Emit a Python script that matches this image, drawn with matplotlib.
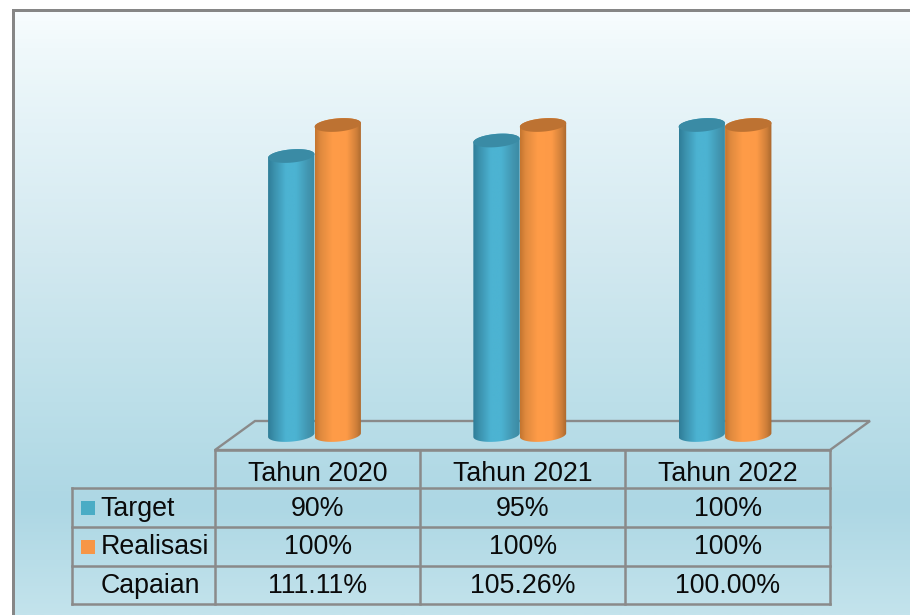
import numpy as np
import matplotlib
matplotlib.use("Agg")
import matplotlib.pyplot as plt
from matplotlib.colors import LinearSegmentedColormap
from matplotlib.patches import Rectangle, Polygon

# ---- data ----
categories = ["Tahun 2020", "Tahun 2021", "Tahun 2022"]
target = [90, 95, 100]
realisasi = [100, 100, 100]
capaian = ["111.11%", "105.26%", "100.00%"]

plt.rcParams["font.family"] = ["Liberation Sans", "DejaVu Sans"]
W, H = 910, 615
fig = plt.figure(figsize=(W / 100, H / 100), dpi=100, facecolor="white")

# ---- background layer in pixel coordinates ----
bg = fig.add_axes([0, 0, 1, 1])
bg.axis("off")

stops = [(0.0, "#f8fdff"), (0.06, "#f0f9fb"), (0.20, "#e3f2f7"), (0.40, "#d3e9f0"),
         (0.65, "#bcdfe9"), (0.82, "#add7e4"), (1.0, "#c3e3ec")]
bg_cmap = LinearSegmentedColormap.from_list("bg", stops)
grad = np.linspace(0, 1, 400)[:, None]
bg.imshow(grad, cmap=bg_cmap, extent=(13, W, H, 10), aspect="auto",
          interpolation="bilinear", zorder=0)
bg.set_xlim(0, W)
bg.set_ylim(H, 0)

GRAY = "#8a8a8a"
bg.add_patch(Rectangle((11.5, 9), W - 11.5, 2.6, fc="#868686", ec="none", zorder=1))
bg.add_patch(Rectangle((11.5, 9), 3.6, H - 9, fc="#868686", ec="none", zorder=1))

# floor
bg.add_patch(Polygon([(215, 450), (255, 421), (870, 421), (830, 450)], closed=True,
                     fc="none", ec=GRAY, lw=1.7, zorder=2, joinstyle="miter"))

# table grid
col_x = [215, 420, 625, 830]
row_y = [450, 488, 527, 566, 604]
left_x = 72
lw = 1.8
for i, y in enumerate(row_y):
    bg.plot([left_x if i > 0 else col_x[0], col_x[-1]], [y, y], color=GRAY, lw=lw,
            solid_capstyle="projecting", zorder=2)
for x in col_x:
    bg.plot([x, x], [row_y[0], row_y[-1]], color=GRAY, lw=lw,
            solid_capstyle="projecting", zorder=2)
bg.plot([left_x, left_x], [row_y[1], row_y[-1]], color=GRAY, lw=lw,
        solid_capstyle="projecting", zorder=2)

FS = 19.3
rows = [categories,
        [f"{v}%" for v in target],
        [f"{v}%" for v in realisasi],
        capaian]
for r, row in enumerate(rows):
    yc = (row_y[r] + row_y[r + 1]) / 2 + 1
    if r == 0:
        yc += 4
    for c, txt in enumerate(row):
        bg.text((col_x[c] + col_x[c + 1]) / 2 + 0.5, yc, txt, ha="center", va="center",
                fontsize=FS, color="#0a0a0a", zorder=3)

BLUE, ORANGE = "#4aacc5", "#f79646"
for name, color, r in [("Target", BLUE, 1), ("Realisasi", ORANGE, 2), ("Capaian", None, 3)]:
    yc = (row_y[r] + row_y[r + 1]) / 2 + 1
    bg.text(100.5, yc, name, ha="left", va="center", fontsize=FS, color="#0a0a0a", zorder=3)
    if color:
        bg.add_patch(Rectangle((81, yc - 8), 14, 14, fc=color, ec="none", zorder=3))

# ---- cylinders on a data axes ----
ax = fig.add_axes([0, 0, 1, 1])
ax.patch.set_alpha(0)
ax.axis("off")
PX_PER_CAT = 205.25
PX_PER_VAL = 3.1
GROUP0_PX = 314.5
VAL100_PX = 125.0
XLIM = (-GROUP0_PX / PX_PER_CAT, (W - GROUP0_PX) / PX_PER_CAT)
YLIM = (100 - (H - VAL100_PX) / PX_PER_VAL, 100 + VAL100_PX / PX_PER_VAL)

BASE = 100 - (435 - VAL100_PX) / PX_PER_VAL
BAR_W = 46.5 / PX_PER_CAT
SEMI_MINOR_PX = 6.6
TILT = np.deg2rad(5)

blue_body = LinearSegmentedColormap.from_list("b", [
    (0.0, "#2f7d98"), (0.12, "#3a8fab"), (0.38, "#4cb3d2"), (0.6, "#4cb3d2"),
    (0.85, "#4296b1"), (1.0, "#3b8aa3")])
orange_body = LinearSegmentedColormap.from_list("o", [
    (0.0, "#c4752f"), (0.12, "#e08a3e"), (0.38, "#ff9c48"), (0.68, "#fd9a47"),
    (0.88, "#d0803a"), (1.0, "#a9672d")])


def ellipse_xy(xc, val, t):
    """Tilted ellipse outline around (xc, val), returned in data units."""
    a = BAR_W * PX_PER_CAT / 2
    b = SEMI_MINOR_PX
    px = a * np.cos(t) * np.cos(TILT) - b * np.sin(t) * np.sin(TILT)
    py = a * np.cos(t) * np.sin(TILT) + b * np.sin(t) * np.cos(TILT)
    return xc + px / PX_PER_CAT, val + py / PX_PER_VAL


def cylinder(xc, val, cmap, top_color, z):
    x0, x1 = xc - BAR_W / 2, xc + BAR_W / 2
    # outline: full top ellipse side, down to the lower half of the base ellipse
    tx, ty = ellipse_xy(xc, val, np.linspace(0, np.pi, 60))
    bx, by = ellipse_xy(xc, BASE, np.linspace(np.pi, 2 * np.pi, 60))
    body = Polygon(np.c_[np.r_[tx, bx], np.r_[ty, by]], closed=True, fc="none", ec="none")
    ax.add_patch(body)
    im = ax.imshow(np.linspace(0, 1, 128)[None, :], cmap=cmap,
                   extent=(x0, x1, BASE - 3, val + 3), aspect="auto",
                   interpolation="bilinear", zorder=z)
    im.set_clip_path(body)
    ex, ey = ellipse_xy(xc, val, np.linspace(0, 2 * np.pi, 120))
    ax.add_patch(Polygon(np.c_[ex, ey], closed=True, fc=top_color, ec="none", zorder=z + 0.1))


for i in range(len(categories)):
    cylinder(i - BAR_W / 2, target[i], blue_body, "#3a8ba5", 3)
    cylinder(i + BAR_W / 2, realisasi[i], orange_body, "#bd7232", 4)

ax.set_xlim(*XLIM)
ax.set_ylim(*YLIM)

fig.savefig("out.png", dpi=100)
